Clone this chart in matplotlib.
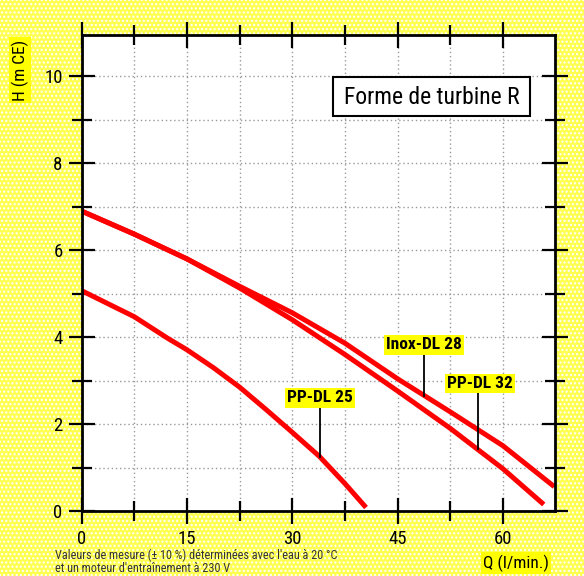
import matplotlib
matplotlib.use('Agg')
import matplotlib.pyplot as plt
from matplotlib.patches import Rectangle
from matplotlib import font_manager
import numpy as np

# pump curves, Q in l/min, H in m CE
q_inox28 = [0, 7.5, 15, 22.5, 30, 37.5, 45, 52.5, 60, 67.3]
h_inox28 = [6.9, 6.37, 5.8, 5.17, 4.56, 3.86, 3.04, 2.28, 1.5, 0.56]

q_pp32 = [0, 7.5, 15, 22.5, 30, 37.5, 45, 52.5, 60, 65.8]
h_pp32 = [6.9, 6.37, 5.8, 5.13, 4.4, 3.6, 2.76, 1.9, 0.97, 0.15]

q_pp25 = [0, 7.5, 12.3, 15, 18.75, 22.5, 26.3, 30, 33.9, 37.5, 40.5]
h_pp25 = [5.07, 4.47, 3.97, 3.71, 3.3, 2.85, 2.33, 1.81, 1.25, 0.63, 0.08]

x_ticks = [0, 15, 30, 45, 60]
y_ticks = [0, 2, 4, 6, 8, 10]

# pick a condensed face if one is installed
names = {f.name for f in font_manager.fontManager.ttflist}
narrow = [n for n in ['Liberation Sans Narrow', 'DejaVu Sans Condensed', 'Roboto Condensed',
                      'Open Sans Condensed'] if n in names]
plt.rcParams['font.family'] = narrow + ['DejaVu Sans']
condensed = [f for f in font_manager.fontManager.ttflist
             if f.name == 'DejaVu Sans' and f.stretch in ('condensed', 'semi-condensed')]
if not narrow and condensed:
    plt.rcParams['font.stretch'] = 'condensed'

fig = plt.figure(figsize=(5.84, 5.76), dpi=100)
fig.patch.set_facecolor('white')
# yellow dotted backdrop
bg = Rectangle((0, 0), 1, 1, transform=fig.transFigure, facecolor='#ffff50',
               edgecolor='white', hatch='....', linewidth=0, zorder=-10)
fig.patches.append(bg)

ax = fig.add_axes([81.5 / 584, 1 - 511 / 576, (555 - 81.5) / 584, (511 - 35) / 576])
ax.set_facecolor('white')
ax.set_xlim(0, 67.4)
ax.set_ylim(0, 10.95)

red = '#ff0000'
for qq, hh in [(q_inox28, h_inox28), (q_pp32, h_pp32), (q_pp25, h_pp25)]:
    ax.plot(qq, hh, color=red, lw=3.6, solid_capstyle='butt', solid_joinstyle='round')

ax.set_xticks(x_ticks)
ax.set_xticks(np.arange(0, 67.4, 7.5), minor=True)
ax.set_yticks(y_ticks)
ax.set_yticks(np.arange(0, 11, 1), minor=True)
ax.tick_params(which='both', direction='inout', top=True, right=True, width=1.6,
               labelsize=13.5, color='black')
ax.tick_params(which='major', length=19, pad=4)
ax.tick_params(which='minor', length=14)
ax.grid(which='both', color='#999999', linestyle=(0, (1, 2)), linewidth=1)
for s in ax.spines.values():
    s.set_linewidth(2)

# curve labels with leader lines
labels = [('Inox-DL 28', 48.8, 3.82, q_inox28, h_inox28),
          ('PP-DL 32', 56.7, 2.94, q_pp32, h_pp32),
          ('PP-DL 25', 34.0, 2.6, q_pp25, h_pp25)]
leader_x = [48.8, 56.4, 33.9]
for (txt, tx, ty, qq, hh), lx in zip(labels, leader_x):
    ax.text(tx, ty, txt, ha='center', va='center', fontsize=12.5, fontweight='bold',
            bbox=dict(facecolor='#ffff00', edgecolor='none', pad=1.5), zorder=5)
    ax.plot([lx, lx], [ty - 0.2, np.interp(lx, qq, hh)], color='black', lw=1.3, zorder=4)

# "Forme de turbine R" box
box = Rectangle((333 / 584, 1 - 116 / 576), 197 / 584, 39 / 576, transform=fig.transFigure,
                facecolor='white', edgecolor='black', linewidth=1.5, zorder=10)
fig.patches.append(box)
fig.text(431.5 / 584, 1 - 97 / 576, 'Forme de turbine R', ha='center', va='center',
         fontsize=17 if (narrow or condensed) else 14.5, zorder=11)

fig.text(20 / 584, 1 - 70 / 576, 'H (m CE)', rotation=90, ha='center', va='center',
         fontsize=12.5, bbox=dict(facecolor='#ffff00', edgecolor='none', pad=1.5))
fig.text(516 / 584, 1 - 563 / 576, 'Q (l/min.)', ha='center', va='center',
         fontsize=12.5, bbox=dict(facecolor='#ffff00', edgecolor='none', pad=1.5))

fig.text(55 / 584, 1 - 555 / 576, "Valeurs de mesure (\u00b1 10 %) d\u00e9termin\u00e9es avec l'eau \u00e0 20 \u00b0C",
         ha='left', va='center', fontsize=8.8, color='#333333')
fig.text(55 / 584, 1 - 568 / 576, "et un moteur d'entra\u00eenement \u00e0 230 V",
         ha='left', va='center', fontsize=8.8, color='#333333')

fig.savefig('out.png', dpi=100, facecolor=fig.get_facecolor())
